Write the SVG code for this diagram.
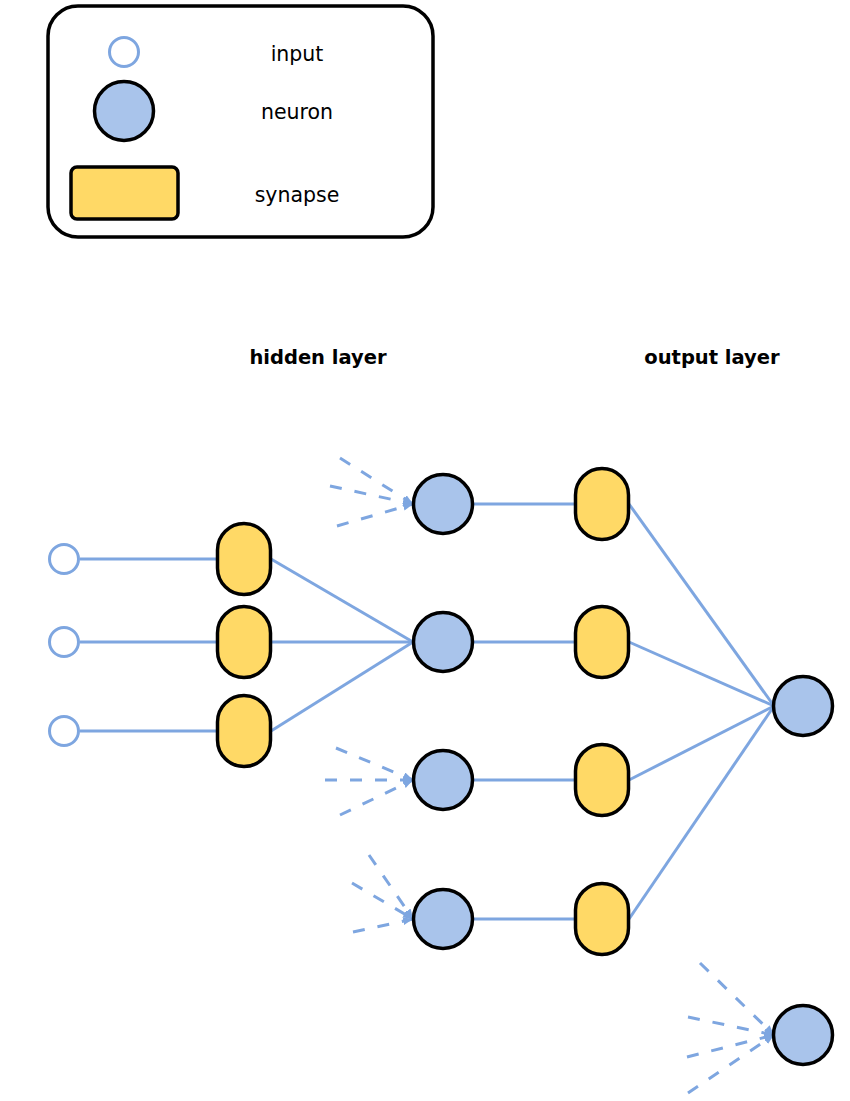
<svg xmlns="http://www.w3.org/2000/svg" width="850" height="1101" viewBox="0 0 850 1101">
  <style>
    .input { fill: #ffffff; stroke: #7ea6e0; stroke-width: 3; }
    .neuron { fill: #a9c4eb; stroke: #000000; stroke-width: 3.5; }
    .synapse { fill: #ffd966; stroke: #000000; stroke-width: 3.5; }
    .link { fill: none; stroke: #7ea6e0; stroke-width: 3; }
    .feed { fill: none; stroke: #7ea6e0; stroke-width: 3; stroke-dasharray: 12 13; marker-end: url(#tip); }
    .label { font-family: "DejaVu Sans", "Liberation Sans", sans-serif; font-size: 20.5px; fill: #000000; text-anchor: middle; }
    .title { font-family: "DejaVu Sans", "Liberation Sans", sans-serif; font-size: 19.5px; font-weight: bold; fill: #000000; text-anchor: middle; }
  </style>
  <defs>
    <marker id="tip" viewBox="0 0 10 8" refX="10" refY="4" markerWidth="10" markerHeight="8" markerUnits="userSpaceOnUse" orient="auto">
      <path d="M0,0 L10,4 L0,8 Z" fill="#7ea6e0"/>
    </marker>
  </defs>

  <rect width="850" height="1101" fill="#ffffff"/>

  <!-- legend -->
  <g id="legend">
    <rect x="48" y="6" width="385" height="231" rx="30" ry="30" fill="#ffffff" stroke="#000000" stroke-width="3.5"/>
    <circle class="input" cx="124" cy="52" r="14.5"/>
    <circle class="neuron" cx="124" cy="111" r="29.5"/>
    <rect class="synapse" x="71" y="167" width="107" height="52" rx="6" ry="6"/>
    <text class="label" x="297" y="61">input</text>
    <text class="label" x="297" y="119">neuron</text>
    <text class="label" x="297" y="202">synapse</text>
  </g>

  <!-- layer titles -->
  <text class="title" x="318" y="364">hidden layer</text>
  <text class="title" x="712" y="364">output layer</text>

  <!-- connectors -->
  <g id="connectors">
    <line class="link" x1="80" y1="559" x2="217" y2="559"/>
    <line class="link" x1="80" y1="642" x2="217" y2="642"/>
    <line class="link" x1="80" y1="731" x2="217" y2="731"/>

    <line class="link" x1="271" y1="559" x2="413" y2="642"/>
    <line class="link" x1="271" y1="642" x2="413" y2="642"/>
    <line class="link" x1="271" y1="731" x2="413" y2="642"/>

    <line class="link" x1="472" y1="504" x2="575" y2="504"/>
    <line class="link" x1="472" y1="642" x2="575" y2="642"/>
    <line class="link" x1="472" y1="780" x2="575" y2="780"/>
    <line class="link" x1="472" y1="919" x2="575" y2="919"/>

    <line class="link" x1="629" y1="504" x2="774" y2="706"/>
    <line class="link" x1="629" y1="642" x2="774" y2="706"/>
    <line class="link" x1="629" y1="780" x2="774" y2="706"/>
    <line class="link" x1="629" y1="919" x2="774" y2="706"/>

    <!-- incoming links from outside the shown part of the network -->
    <line class="feed" x1="340" y1="458" x2="413" y2="504"/>
    <line class="feed" x1="330" y1="486" x2="413" y2="504"/>
    <line class="feed" x1="337" y1="526" x2="413" y2="504"/>

    <line class="feed" x1="336" y1="748" x2="413" y2="780"/>
    <line class="feed" x1="325" y1="780" x2="413" y2="780"/>
    <line class="feed" x1="340" y1="815" x2="413" y2="780"/>

    <line class="feed" x1="369" y1="855" x2="413" y2="919"/>
    <line class="feed" x1="352" y1="883" x2="413" y2="919"/>
    <line class="feed" x1="353" y1="932" x2="413" y2="919"/>

    <line class="feed" x1="700" y1="963" x2="774" y2="1035"/>
    <line class="feed" x1="688" y1="1017" x2="774" y2="1035"/>
    <line class="feed" x1="687" y1="1057" x2="774" y2="1035"/>
    <line class="feed" x1="688" y1="1093" x2="774" y2="1035"/>
  </g>

  <!-- inputs -->
  <g id="input-1"><circle class="input" cx="64" cy="559" r="14.5"/></g>
  <g id="input-2"><circle class="input" cx="64" cy="642" r="14.5"/></g>
  <g id="input-3"><circle class="input" cx="64" cy="731" r="14.5"/></g>

  <!-- hidden-layer synapses -->
  <g id="syn-h1"><rect class="synapse" x="217.5" y="523.5" width="53" height="71" rx="26.5" ry="26.5"/></g>
  <g id="syn-h2"><rect class="synapse" x="217.5" y="606.5" width="53" height="71" rx="26.5" ry="26.5"/></g>
  <g id="syn-h3"><rect class="synapse" x="217.5" y="695.5" width="53" height="71" rx="26.5" ry="26.5"/></g>

  <!-- hidden neurons -->
  <g id="hidden-1"><circle class="neuron" cx="443" cy="504" r="29.5"/></g>
  <g id="hidden-2"><circle class="neuron" cx="443" cy="642" r="29.5"/></g>
  <g id="hidden-3"><circle class="neuron" cx="443" cy="780" r="29.5"/></g>
  <g id="hidden-4"><circle class="neuron" cx="443" cy="919" r="29.5"/></g>

  <!-- output-layer synapses -->
  <g id="syn-o1"><rect class="synapse" x="575.5" y="468.5" width="53" height="71" rx="26.5" ry="26.5"/></g>
  <g id="syn-o2"><rect class="synapse" x="575.5" y="606.5" width="53" height="71" rx="26.5" ry="26.5"/></g>
  <g id="syn-o3"><rect class="synapse" x="575.5" y="744.5" width="53" height="71" rx="26.5" ry="26.5"/></g>
  <g id="syn-o4"><rect class="synapse" x="575.5" y="883.5" width="53" height="71" rx="26.5" ry="26.5"/></g>

  <!-- output neurons -->
  <g id="output-1"><circle class="neuron" cx="803" cy="706" r="29.5"/></g>
  <g id="output-2"><circle class="neuron" cx="803" cy="1035" r="29.5"/></g>
</svg>
